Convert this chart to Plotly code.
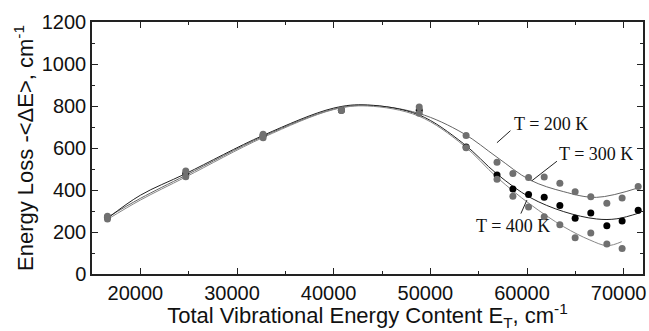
import plotly.graph_objects as go

# measured points
x_pts = [16600, 24700, 32700, 40800, 48850, 53700, 56900, 58540, 60160, 61780, 63400, 64980, 66600, 68260, 69840, 71500]
y_200 = [275, 490, 665, 781, 795, 659, 532, 479, 460, 462, 432, 392, 368, 337, 362, 417]
y_300 = [270, 478, 660, 780, 780, 605, 471, 405, 379, 365, 326, 265, 290, 230, 252, 303]
x_400 = [16600, 24700, 32700, 40800, 48850, 53700, 56900, 58540, 60160, 61780, 63400, 64980, 66600, 68260, 69840]
y_400 = [262, 463, 649, 778, 765, 601, 451, 370, 319, 273, 235, 173, 195, 143, 122]

# fitted curves
xc_200 = [16600, 20000, 24700, 32700, 40000, 43500, 48800, 53400, 56900, 60300, 63800, 67200, 71700]
yc_200 = [270, 360, 470, 655, 785, 803, 765, 670, 556, 448, 392, 365, 413]
xc_300 = [16600, 20000, 24700, 32700, 40000, 43500, 48800, 53400, 56900, 60300, 63800, 67200, 69300, 71700]
yc_300 = [265, 375, 478, 660, 790, 805, 758, 622, 476, 365, 297, 262, 263, 292]
xc_400 = [16600, 20000, 24700, 32700, 40000, 43500, 48800, 53400, 56900, 60300, 63800, 66500, 68300, 69800]
yc_400 = [260, 352, 462, 650, 783, 800, 752, 614, 460, 333, 225, 162, 135, 154]

fig = go.Figure()
for xc, yc, col in [(xc_200, yc_200, "#666666"), (xc_300, yc_300, "#222222"), (xc_400, yc_400, "#888888")]:
    fig.add_trace(go.Scatter(x=xc, y=yc, mode="lines", line=dict(color=col, width=1, shape="spline", smoothing=1.0),
                             showlegend=False, hoverinfo="skip"))
fig.add_trace(go.Scatter(x=x_pts, y=y_300, mode="markers", marker=dict(color="#000000", size=7), showlegend=False))
fig.add_trace(go.Scatter(x=x_pts, y=y_200, mode="markers", marker=dict(color="#707070", size=7), showlegend=False))
fig.add_trace(go.Scatter(x=x_400, y=y_400, mode="markers", marker=dict(color="#707070", size=7), showlegend=False))

ann_font = dict(family="Liberation Serif", size=18, color="#111111")
fig.add_annotation(x=56890, y=625, ax=511.7 - 496.7, ay=129.3 - 142.7, text="", showarrow=True,
                   arrowhead=0, arrowwidth=1, arrowcolor="#222")
fig.add_annotation(x=62500, y=714, text="T = 200 K", showarrow=False, font=ann_font)
fig.add_annotation(x=60500, y=444, ax=558.3 - 531.7, ay=160 - 180.7, text="", showarrow=True,
                   arrowhead=0, arrowwidth=1, arrowcolor="#222")
fig.add_annotation(x=67100, y=571, text="T = 300 K", showarrow=False, font=ann_font)
fig.add_annotation(x=59990, y=352, ax=520 - 526.7, ay=215 - 200, text="", showarrow=True,
                   arrowhead=0, arrowwidth=1, arrowcolor="#222")
fig.add_annotation(x=58600, y=229, text="T = 400 K", showarrow=False, font=ann_font)

axfont = dict(family="Liberation Sans", size=20, color="#111111")
titlefont = dict(family="Liberation Sans", size=22, color="#111111")
common = dict(showline=True, linecolor="#222", linewidth=1.5, mirror="ticks", ticks="inside", ticklen=6,
              tickcolor="#222", showgrid=False, zeroline=False, tickfont=axfont,
              ticklabeloverflow="allow", automargin=False,
              minor=dict(ticks="inside", ticklen=3, tickcolor="#222"))
fig.update_xaxes(range=[15000, 72000], tickvals=[20000, 30000, 40000, 50000, 60000, 70000],
                 tickformat="d", minor_dtick=5000, ticklabelshift=-5,
                 title=dict(text="Total Vibrational Energy Content E<sub>T</sub>, cm<sup>-1</sup>",
                            font=titlefont, standoff=0), **common)
fig.update_yaxes(range=[0, 1200], dtick=200, minor_dtick=100, tickformat="d",
                 title=dict(text="Energy Loss -<ΔE>, cm<sup>-1</sup>",
                            font=titlefont, standoff=2), **common)
fig.update_layout(width=649, height=331, margin=dict(l=92, r=6, t=22, b=57),
                  plot_bgcolor="white", paper_bgcolor="white")
fig.write_html("out.html")
